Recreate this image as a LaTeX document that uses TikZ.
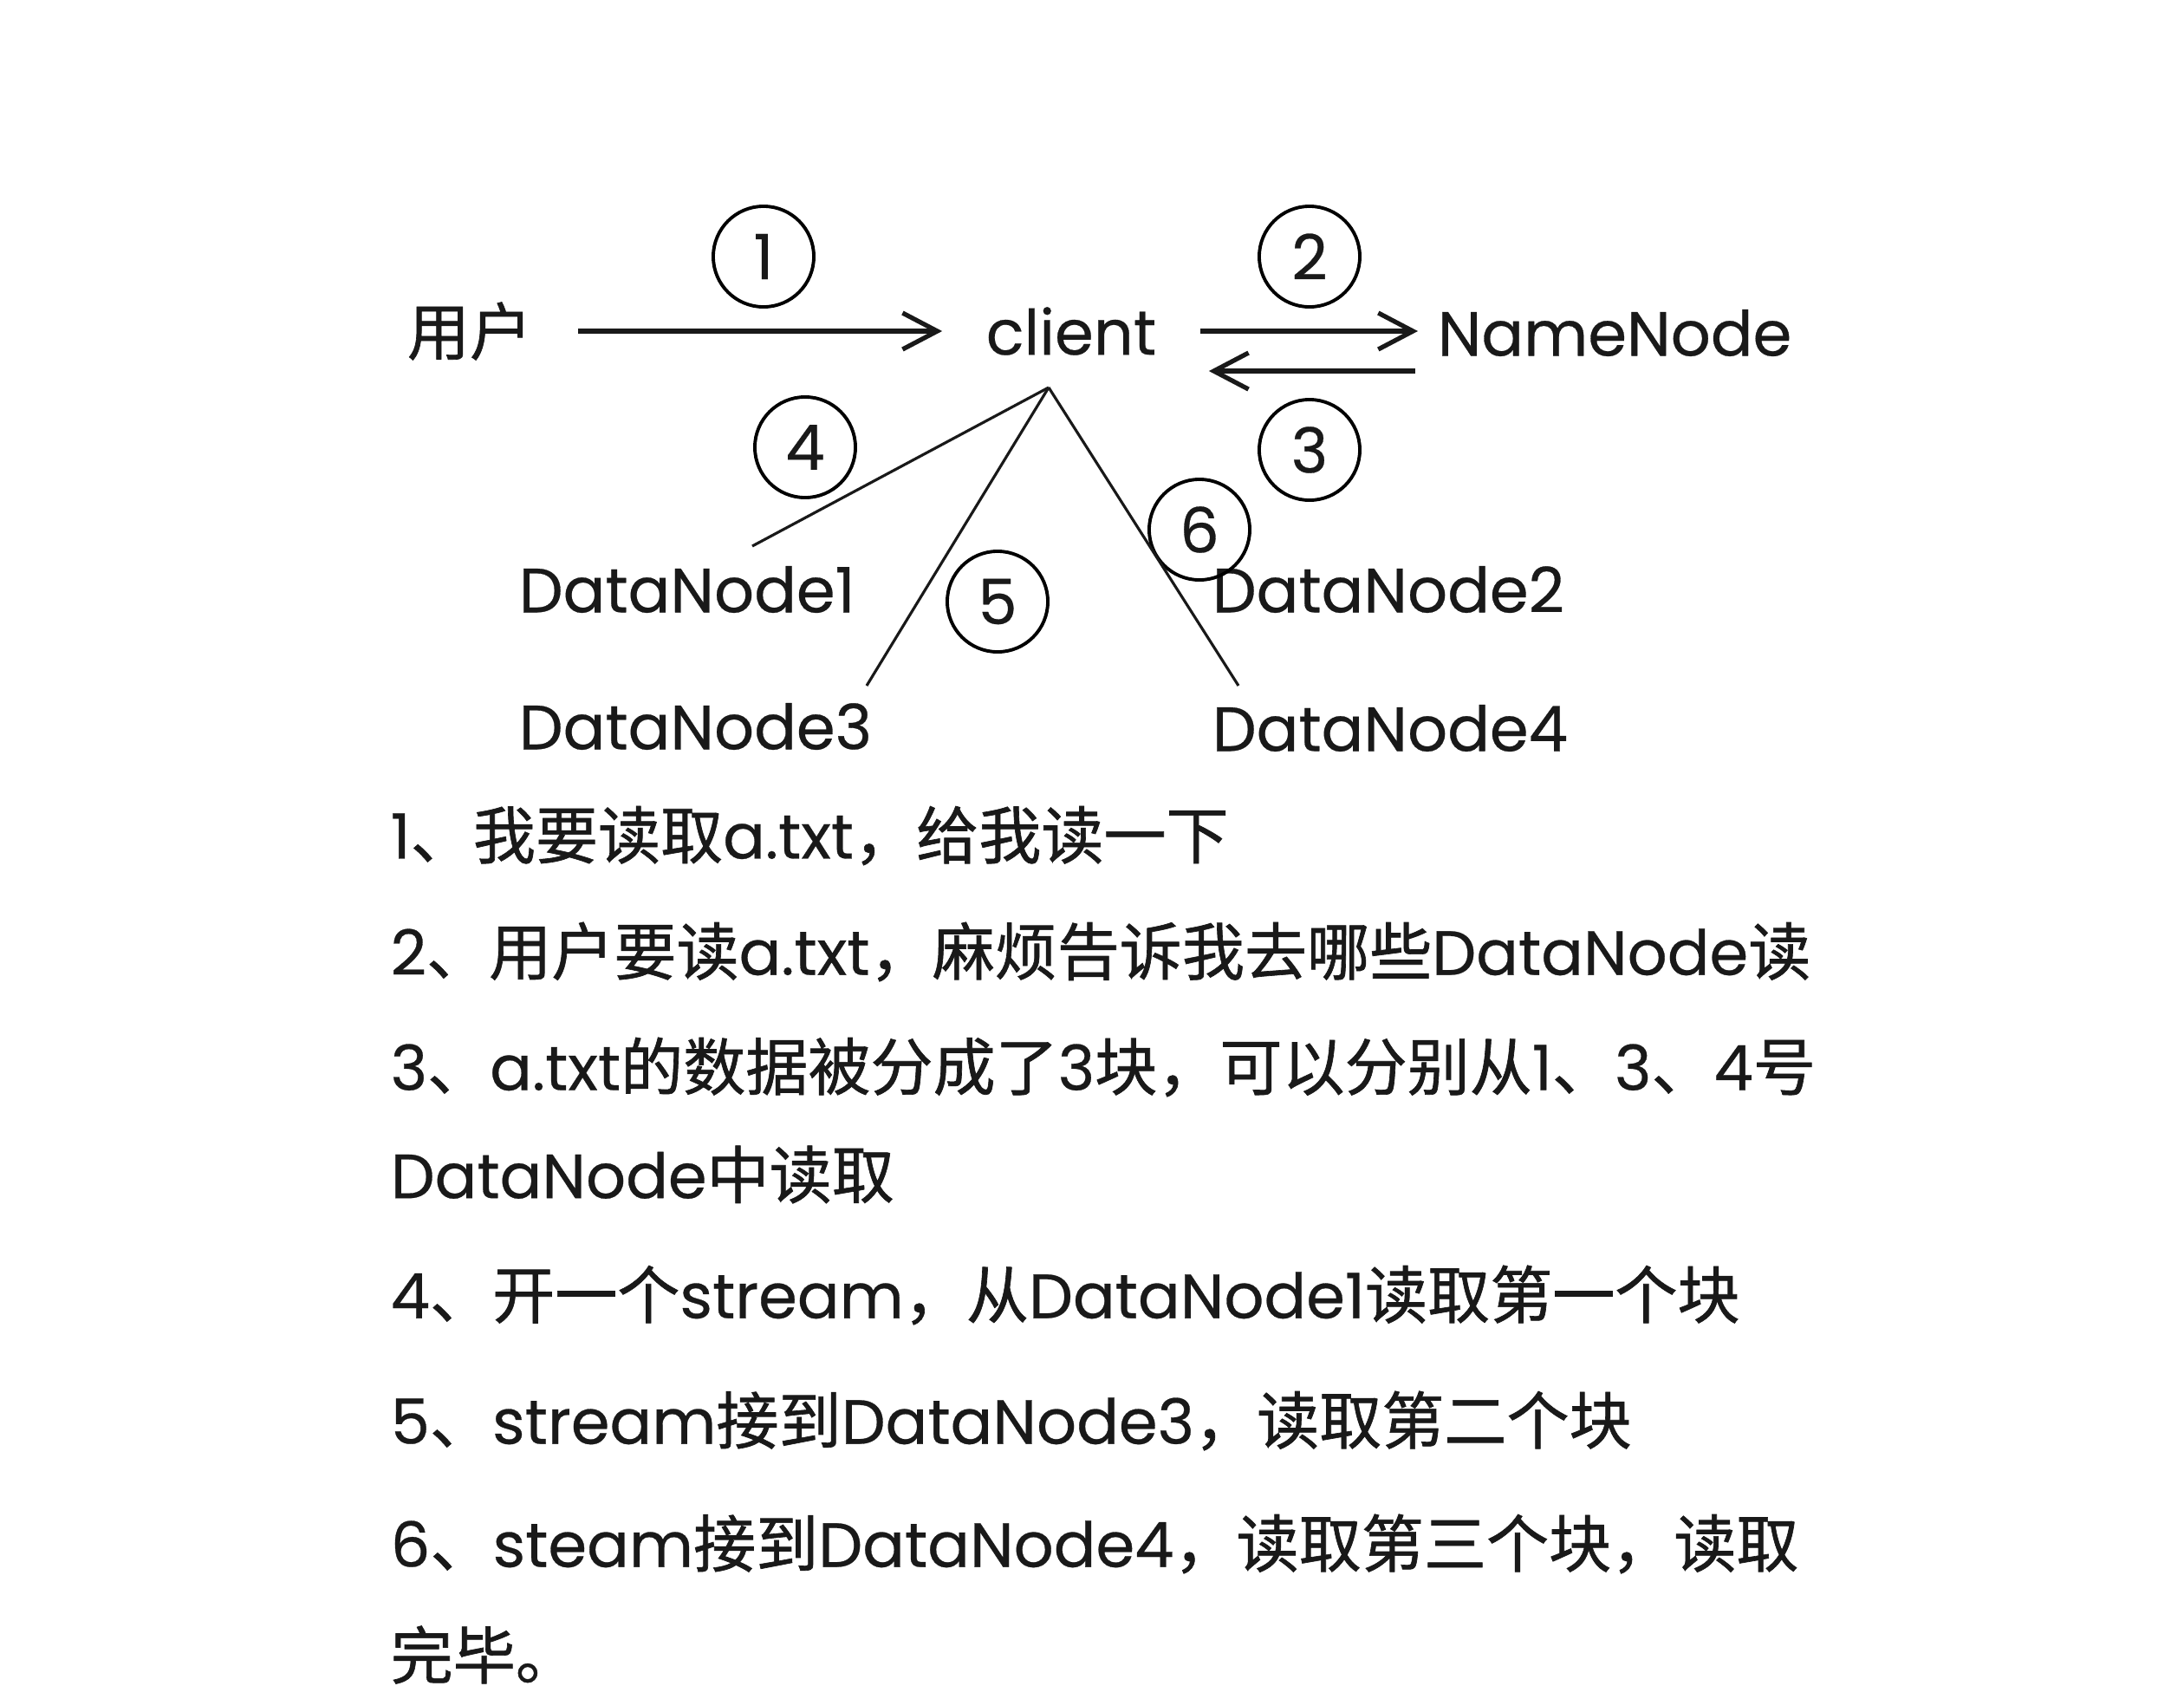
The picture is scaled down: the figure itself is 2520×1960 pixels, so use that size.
\documentclass[tikz,border=0pt]{standalone}
\usepackage{fontspec}
\setmainfont{Poppins}[FakeBold=0.4]
\newfontfamily\cjk{Noto Sans CJK SC}[FakeBold=0.9]
\newcommand{\zh}[1]{{\cjk #1}}
\usetikzlibrary{arrows.meta}

\begin{document}
\begin{tikzpicture}[x=0.01cm,y=-0.01cm,
                    lbl/.style={inner sep=0pt,text=black!90,font=\fontsize{20.5}{24}\selectfont},
                    num/.style={draw,circle,line width=1.1pt,minimum size=1.16cm,inner sep=0pt,text=black!90,font=\fontsize{20.5}{24}\selectfont},
                    arr/.style={-{Straight Barb[length=0.4cm,width=0.42cm]},line width=1.5pt,draw=black!90},
                    ln/.style={line width=0.9pt,draw=black!90},
                    txt/.style={lbl,anchor=west}]
\useasboundingbox (0,0) rectangle (2520,1960);
% the nodes of the diagram
\node[lbl] (user) at (542,382) {\zh{用户}};
\node[lbl] (client) at (1236,382) {client};
\node[lbl,anchor=west] (namenode) at (1658,384) {NameNode};
\node[lbl,anchor=west] (dn1) at (598,680) {DataNode1};
\node[lbl,anchor=west] (dn2) at (1398,680) {DataNode2};
\node[lbl,anchor=west] (dn3) at (598,838) {DataNode3};
\node[lbl,anchor=west] (dn4) at (1398,840) {DataNode4};
\coordinate (hub) at (1210,447);
\coordinate (e4) at (868,630);
\coordinate (e5) at (1000,791);
\coordinate (e6) at (1429,791);
% step numbers
\node[num] (c1) at (881,296) {1};
\node[num] (c2) at (1511,296) {2};
\node[num] (c3) at (1511,519) {3};
\node[num] (c4) at (929,516) {4};
\node[num] (c5) at (1151,694) {5};
\node[num] (c6) at (1384,611) {6};
% connectors
\draw[arr,shorten <=0.52cm,shorten >=0.5cm] (user.east) -- (client.west);
\draw[arr,shorten <=0.5cm,shorten >=0.22cm] (client.east) -- (client.east -| namenode.west);
\draw[arr,shorten <=0.25cm,shorten >=0.6cm] ([yshift=-0.44cm]namenode.west) -- ([yshift=-0.44cm]namenode.west -| client.east);
\draw[ln] (hub) -- (e4);
\draw[ln] (hub) -- (e5);
\draw[ln] (hub) -- (e6);
% the steps as text
\node[txt] (t1) at (450,964) {1\zh{、我要读取}a.txt\zh{，给我读一下}};
\node[txt] (t2) at (450,1098) {2\zh{、用户要读}a.txt\zh{，麻烦告诉我去哪些}DataNode\zh{读}};
\node[txt] (t3) at (450,1231) {3\zh{、}a.txt\zh{的数据被分成了}3\zh{块，可以分别从}1\zh{、}3\zh{、}4\zh{号}};
\node[txt] (t3b) at (450,1355) {DataNode\zh{中读取}};
\node[txt] (t4) at (450,1494) {4\zh{、开一个}stream\zh{，从}DataNode1\zh{读取第一个块}};
\node[txt] (t5) at (450,1639) {5\zh{、}stream\zh{接到}DataNode3\zh{，读取第二个块}};
\node[txt] (t6) at (450,1781) {6\zh{、}steam\zh{接到}DataNode4\zh{，读取第三个块，读取}};
\node[txt] (t6b) at (450,1909) {\zh{完毕。}};
\end{tikzpicture}
\end{document}
